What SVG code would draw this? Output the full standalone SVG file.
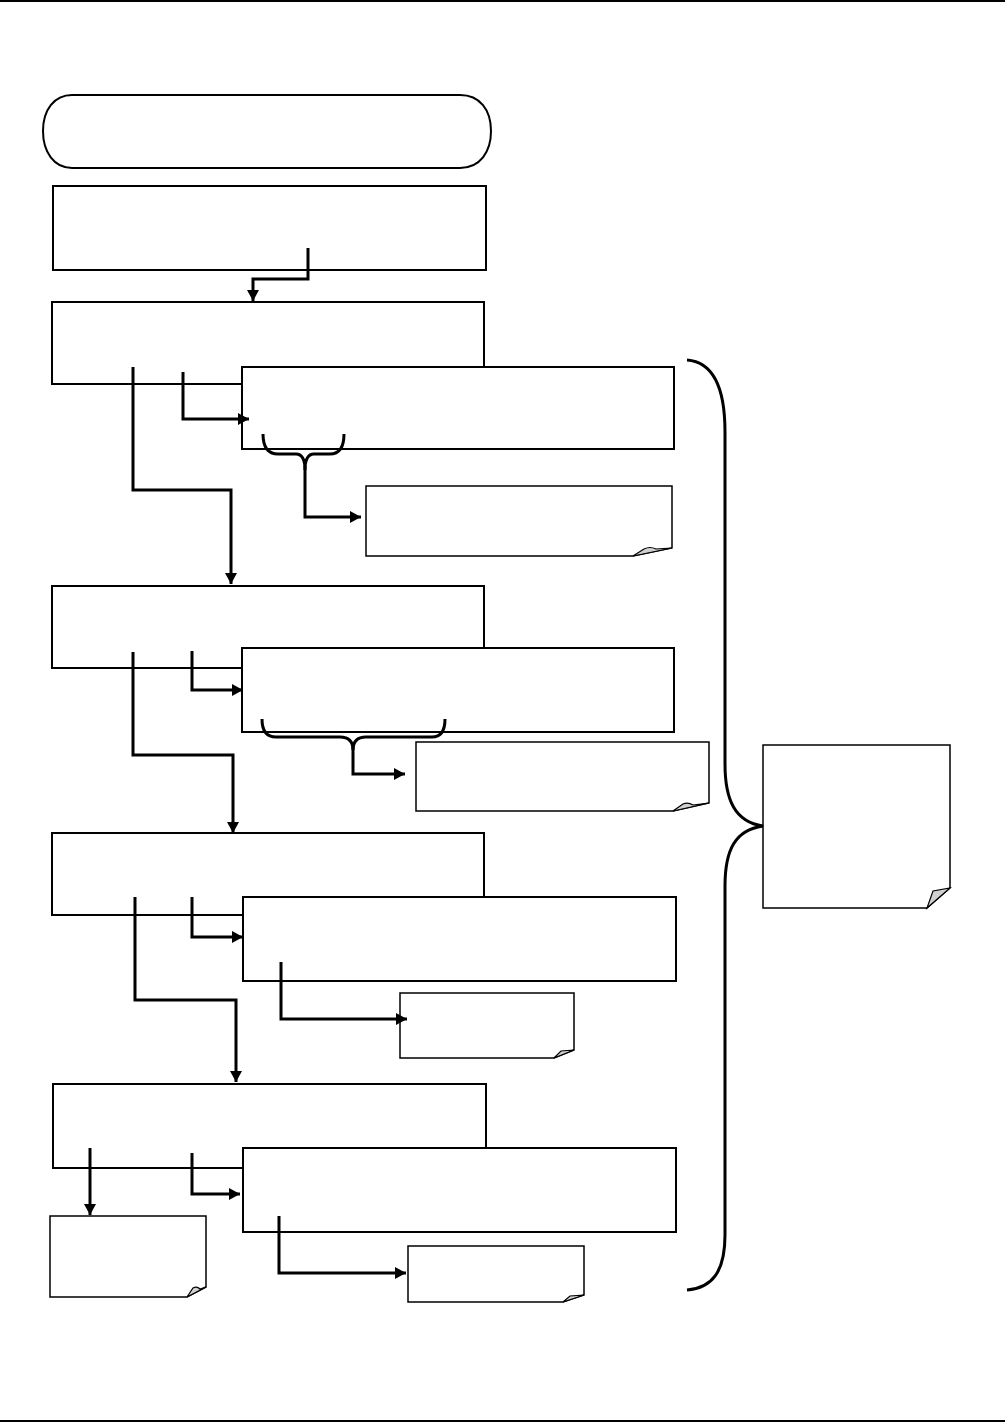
<svg xmlns="http://www.w3.org/2000/svg" width="1005" height="1422" viewBox="0 0 1005 1422">
<style>
.box{fill:#fff;stroke:#000;stroke-width:2}
.note{fill:#fff;stroke:#000;stroke-width:1.5}
.fold{fill:#d0d0d0;stroke:#000;stroke-width:1.2}
.wire{fill:none;stroke:#000;stroke-width:3}
.brace{fill:none;stroke:#000;stroke-width:3}
</style>
<defs>
<marker id="arr" markerUnits="userSpaceOnUse" markerWidth="12" markerHeight="12" refX="11" refY="6" orient="auto">
<path d="M0,0 L11,6 L0,12 Z" fill="#000"/>
</marker>
</defs>
<line x1="0" y1="1" x2="1005" y2="1" stroke="#000" stroke-width="2"/>
<line x1="0" y1="1421" x2="1005" y2="1421" stroke="#000" stroke-width="2"/>

<g id="start"><path class="box" d="M72,95 H460 C480,95 491,110 491,131 C491,152 480,168 460,168 H72 C54,168 43,152 43,131 C43,110 54,95 72,95 Z"/></g>
<g id="box1"><rect class="box" x="53" y="186" width="433" height="84"/></g>
<g id="box2"><rect class="box" x="52" y="302" width="432" height="82"/></g>
<g id="box3"><rect class="box" x="242" y="367" width="432" height="82"/></g>
<g id="note5"><path class="note" d="M366,486 H672 V548 L633,556 H366 Z"/><path class="fold" d="M633,556 L644,549 Q650,546 656,549 L672,548 Z"/></g>
<g id="box4"><rect class="box" x="52" y="586" width="432" height="82"/></g>
<g id="box6"><rect class="box" x="242" y="648" width="432" height="84"/></g>
<g id="note7"><path class="note" d="M416,742 H709 V803 L673,811 H416 Z"/><path class="fold" d="M673,811 L683,804 Q688,802 693,805 L709,803 Z"/></g>
<g id="box8"><rect class="box" x="52" y="833" width="432" height="82"/></g>
<g id="box9"><rect class="box" x="243" y="897" width="433" height="84"/></g>
<g id="note11"><path class="note" d="M400,993 H574 V1050 L554,1058 H400 Z"/><path class="fold" d="M554,1058 L561,1051 L574,1050 Z"/></g>
<g id="box10"><rect class="box" x="53" y="1084" width="433" height="84"/></g>
<g id="box12"><rect class="box" x="243" y="1148" width="433" height="84"/></g>
<g id="note13"><path class="note" d="M50,1216 H206 V1287 L187,1297 H50 Z"/><path class="fold" d="M187,1297 L193,1288 Q197,1286 200,1289 L206,1287 Z"/></g>
<g id="note14"><path class="note" d="M408,1246 H584 V1295 L563,1302 H408 Z"/><path class="fold" d="M563,1302 L570,1296 L584,1295 Z"/></g>
<g id="note15"><path class="note" d="M763,745 H950 V888 L927,908 H763 Z"/><path class="fold" d="M927,908 L933,891 L950,888 Z"/></g>

<g id="connectors">
<path class="wire" d="M308,248 V279 H253 V301" marker-end="url(#arr)"/>
<path class="wire" d="M133,367 V490 H231 V584" marker-end="url(#arr)"/>
<path class="wire" d="M183,372 V419 H249" marker-end="url(#arr)"/>
<path class="brace" d="M263,434 Q263,454 278,454 H296 Q305,454 305,470 Q305,454 314,454 H330 Q344,454 344,434"/>
<path class="wire" d="M305,466 V517 H361" marker-end="url(#arr)"/>

<path class="wire" d="M133,652 V755 H233 V833" marker-end="url(#arr)"/>
<path class="wire" d="M192,651 V690 H243" marker-end="url(#arr)"/>
<path class="brace" d="M262,719 Q262,737 276,737 H340 Q353,737 353,750 Q353,737 366,737 H432 Q445,737 445,719"/>
<path class="wire" d="M353,745 V774 H405" marker-end="url(#arr)"/>

<path class="wire" d="M135,897 V1000 H236 V1082" marker-end="url(#arr)"/>
<path class="wire" d="M192,897 V937 H243" marker-end="url(#arr)"/>
<path class="wire" d="M281,962 V1019 H407" marker-end="url(#arr)"/>

<path class="wire" d="M90,1148 V1215" marker-end="url(#arr)"/>
<path class="wire" d="M192,1153 V1194 H240" marker-end="url(#arr)"/>
<path class="wire" d="M279,1216 V1273 H406" marker-end="url(#arr)"/>

<path class="brace" d="M687,360 C712,362 725,385 725,432 V764 C725,800 735,822 763,826 C735,830 725,850 725,886 V1235 C725,1272 712,1288 687,1290"/>
</g>
</svg>
